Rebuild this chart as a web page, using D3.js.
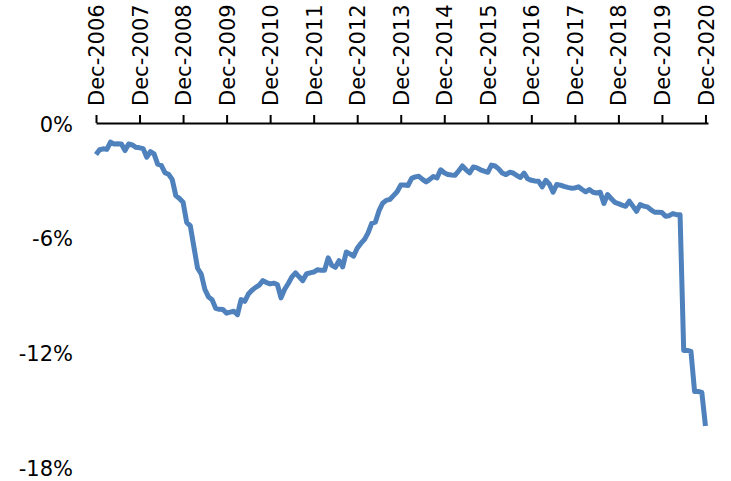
<!DOCTYPE html>
<html>
<head>
<meta charset="utf-8">
<script src="https://cdn.jsdelivr.net/npm/d3@7/dist/d3.min.js"></script>
<style>
  html, body { margin: 0; padding: 0; background: #fff; }
  svg { display: block; }
  text { font-family: "DejaVu Sans", Verdana, sans-serif; fill: #000; }
</style>
</head>
<body>
<script>
// Monthly values (%), index 0 = Dec-2006 ... index 168 = Dec-2020
const values = [
  -1.65,-1.40,-1.35,-1.38,-1.00,-1.10,-1.08,-1.10,-1.44,-1.10,-1.15,-1.27,
  -1.30,-1.34,-1.79,-1.50,-1.62,-2.15,-2.22,-2.60,-2.68,-2.95,-3.80,-3.95,
  -4.15,-5.20,-5.38,-6.50,-7.60,-7.90,-8.70,-9.10,-9.25,-9.70,-9.75,-9.76,
  -9.95,-9.90,-9.85,-10.03,-9.24,-9.33,-8.95,-8.75,-8.60,-8.48,-8.25,-8.35,
  -8.42,-8.38,-8.45,-9.15,-8.70,-8.40,-8.05,-7.84,-8.05,-8.25,-7.90,-7.84,
  -7.80,-7.68,-7.70,-7.71,-7.06,-7.45,-7.55,-7.20,-7.53,-6.75,-6.85,-6.97,
  -6.55,-6.30,-6.10,-5.75,-5.25,-5.19,-4.60,-4.20,-4.05,-4.00,-3.80,-3.60,
  -3.25,-3.25,-3.27,-2.90,-2.82,-2.79,-2.95,-3.08,-2.95,-2.80,-2.87,-2.45,
  -2.60,-2.70,-2.72,-2.73,-2.50,-2.25,-2.45,-2.61,-2.30,-2.35,-2.45,-2.52,
  -2.58,-2.20,-2.25,-2.40,-2.62,-2.70,-2.58,-2.62,-2.75,-2.85,-2.62,-2.92,
  -3.00,-3.03,-3.05,-3.34,-3.00,-3.20,-3.62,-3.22,-3.25,-3.32,-3.37,-3.41,
  -3.40,-3.34,-3.48,-3.60,-3.48,-3.62,-3.66,-3.62,-4.21,-3.74,-3.95,-4.15,
  -4.22,-4.30,-4.36,-4.09,-4.35,-4.62,-4.27,-4.35,-4.39,-4.55,-4.67,-4.67,
  -4.68,-4.88,-4.85,-4.74,-4.80,-4.80,-11.90,-11.90,-11.95,-14.05,-14.05,-14.10,
  -15.85
];
const tickYears = [2006,2007,2008,2009,2010,2011,2012,2013,2014,2015,2016,2017,2018,2019,2020];
const tickLabels = tickYears.map(y => "Dec-" + y);
const yTicks = [0, -6, -12, -18];

const W = 731, H = 481;
const svg = d3.select("body").append("svg").attr("width", W).attr("height", H);

const x = d3.scaleLinear().domain([0, 168.7]).range([96, 708]);
const y = d3.scaleLinear().domain([-18, 0]).range([467, 123]);

// Top category axis
const xAxis = d3.axisTop(x)
  .tickValues(tickYears.map((d, i) => i * 12))
  .tickSize(8)
  .tickSizeOuter(0)
  .tickFormat((d, i) => tickLabels[i]);

const gx = svg.append("g").attr("transform", `translate(0,${y(0)})`).call(xAxis);
gx.select(".domain").attr("stroke", "#000").attr("stroke-width", 2);
gx.selectAll(".tick line").attr("stroke", "#000").attr("stroke-width", 2);
gx.selectAll(".tick text")
  .attr("font-size", 21)
  .attr("font-family", "DejaVu Sans, Verdana, sans-serif")
  .attr("fill", "#000")
  .attr("text-anchor", "start")
  .attr("transform", "translate(0,-17) rotate(-90)")
  .attr("x", 0).attr("y", 0).attr("dy", "0.36em");

// Y labels (no axis line)
svg.append("g").selectAll("text")
  .data(yTicks)
  .join("text")
  .attr("x", 73)
  .attr("y", d => y(d))
  .attr("dy", "0.42em")
  .attr("text-anchor", "end")
  .attr("font-size", 21)
  .text(d => d + "%");

// Line
const line = d3.line().x((d, i) => x(i)).y(d => y(d));
svg.append("path")
  .datum(values)
  .attr("d", line)
  .attr("fill", "none")
  .attr("stroke", "#4F81BD")
  .attr("stroke-width", 5)
  .attr("stroke-linejoin", "round");
</script>
</body>
</html>
